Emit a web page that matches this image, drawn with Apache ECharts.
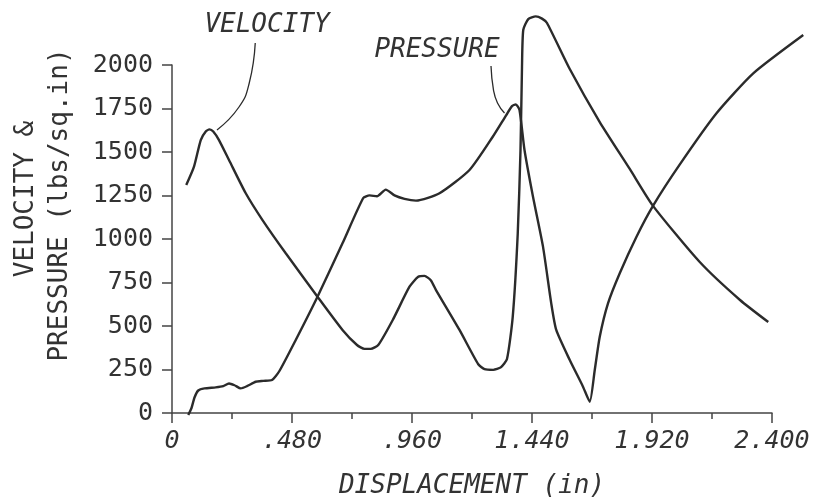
<!DOCTYPE html>
<html>
<head>
<meta charset="utf-8">
<script src="https://cdn.jsdelivr.net/npm/echarts@6/dist/echarts.min.js"></script>
<style>
  html, body { margin: 0; padding: 0; background: #fff; }
  #chart { width: 817px; height: 504px; }
</style>
</head>
<body>
<div id="chart"></div>
<script>
// [displacement (in), value]
const velocity = [
  [0.057, 1314], [0.088, 1419], [0.115, 1571], [0.135, 1620], [0.150, 1632],
  [0.165, 1620], [0.188, 1571], [0.228, 1457], [0.295, 1267], [0.362, 1114],
  [0.455, 924], [0.582, 676], [0.682, 486], [0.740, 400], [0.770, 378],
  [0.795, 378], [0.825, 400], [0.883, 543], [0.950, 733], [0.985, 790],
  [1.010, 795], [1.035, 770], [1.056, 714], [1.150, 486], [1.225, 290],
  [1.250, 262], [1.285, 258], [1.315, 272], [1.340, 320], [1.363, 562],
  [1.383, 1038], [1.394, 1514], [1.400, 1990], [1.405, 2200], [1.425, 2262],
  [1.455, 2278], [1.480, 2265], [1.500, 2240], [1.591, 1977], [1.711, 1674],
  [1.831, 1406], [1.924, 1195], [2.111, 874], [2.272, 657], [2.385, 531]
]
const pressure = [
  [0.065, 0], [0.078, 40], [0.090, 100], [0.105, 140], [0.130, 152],
  [0.175, 158], [0.205, 165], [0.228, 180], [0.250, 170], [0.275, 152],
  [0.300, 165], [0.335, 190], [0.365, 195], [0.400, 200], [0.429, 250],
  [0.495, 429], [0.582, 676], [0.682, 981], [0.765, 1240], [0.790, 1255],
  [0.820, 1250], [0.855, 1288], [0.890, 1255], [0.930, 1235], [0.976, 1225],
  [1.070, 1267], [1.190, 1400], [1.283, 1590], [1.337, 1714], [1.360, 1765],
  [1.375, 1775], [1.390, 1743], [1.410, 1514], [1.444, 1247], [1.484, 962],
  [1.517, 638], [1.537, 486], [1.591, 314], [1.644, 162], [1.671, 76],
  [1.691, 257], [1.711, 447], [1.744, 638], [1.791, 810], [1.858, 1019],
  [1.924, 1195], [2.030, 1429], [2.178, 1724], [2.325, 1952], [2.525, 2171]
]
// leader lines from the two labels down to their curves
const velocityLeader = [[0.333, 2126], [0.309, 1897], [0.268, 1760], [0.180, 1629]]
const pressureLeader = [[1.276, 1994], [1.286, 1857], [1.302, 1783], [1.330, 1726]]

const xTickLabels = ['0', '.480', '.960', '1.440', '1.920', '2.400']

const ink = '#2b2b2b'
const font = 'DejaVu Sans Mono'

// the pressure trace runs past the 2.400 end of the axis, so the curves sit on a
// hidden, wider x scale (same px per inch) laid over the visible axes
const plotLeft = 172, plotTop = 65, plotW = 600, plotH = 350
const xMax = 2.4, xMaxWide = 2.58

const chart = echarts.init(document.getElementById('chart'))

function label(text, x, y, rotate, italic) {
  return {
    type: 'text', x, y, rotation: rotate ? Math.PI / 2 : 0,
    style: {
      text, fill: '#333',
      font: (italic ? 'italic ' : '') + '26px "DejaVu Sans Mono"',
      align: 'center', verticalAlign: 'middle',
      textAlign: 'center', textVerticalAlign: 'middle'
    }
  }
}

function line(name, data, width, smooth) {
  return {
    name, type: 'line', data, xAxisIndex: 1, yAxisIndex: 1,
    smooth, showSymbol: false, clip: false,
    lineStyle: { color: ink, width }
  }
}

chart.setOption({
  backgroundColor: '#fff',
  animation: false,
  grid: [
    { left: plotLeft, top: plotTop, width: plotW, height: plotH },
    { left: plotLeft, top: plotTop, width: plotW * xMaxWide / xMax, height: plotH }
  ],
  xAxis: [
    {
      type: 'value', gridIndex: 0,
      min: 0, max: xMax, interval: 0.48,
      name: 'DISPLACEMENT (in)',
      nameLocation: 'middle',
      nameGap: 60,
      nameTextStyle: { fontFamily: font, fontSize: 26, fontStyle: 'italic', color: '#333' },
      axisLine: { lineStyle: { color: '#444', width: 1.5 } },
      axisTick: { length: 10, lineStyle: { color: '#444', width: 1.5 } },
      minorTick: { show: true, splitNumber: 2, length: 6, lineStyle: { color: '#444', width: 1.5 } },
      splitLine: { show: false },
      axisLabel: {
        margin: 16,
        fontFamily: font, fontSize: 25, fontStyle: 'italic', color: '#333',
        formatter: v => xTickLabels[Math.round(v / 0.48)]
      }
    },
    { type: 'value', gridIndex: 1, min: 0, max: xMaxWide, show: false }
  ],
  yAxis: [
    {
      type: 'value', gridIndex: 0,
      min: 0, max: 2000, interval: 250,
      axisLine: { show: true, lineStyle: { color: '#444', width: 1.5 } },
      axisTick: { show: true, length: 10, lineStyle: { color: '#444', width: 1.5 } },
      splitLine: { show: false },
      axisLabel: {
        margin: 19, fontFamily: font, fontSize: 25, color: '#333',
        formatter: v => String(v)
      }
    },
    { type: 'value', gridIndex: 1, min: 0, max: 2000, show: false }
  ],
  graphic: [
    label('VELOCITY &', 26, 199, true, false),
    label('PRESSURE (lbs/sq.in)', 60, 205, true, false),
    label('VELOCITY', 267, 25, false, true),
    label('PRESSURE', 437, 50, false, true)
  ],
  series: [
    line('Velocity', velocity, 2.4, 0.2),
    line('Pressure', pressure, 2.4, 0.2),
    line('velocity label', velocityLeader, 1.3, 0.5),
    line('pressure label', pressureLeader, 1.3, 0.5)
  ]
})
</script>
</body>
</html>
